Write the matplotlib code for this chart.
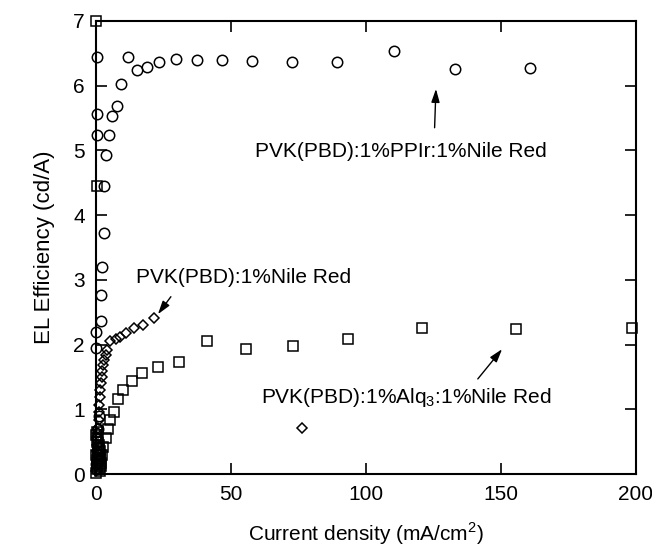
#!/usr/bin/env python3
# -*- coding: utf-8 -*-

import numpy as np
import matplotlib
matplotlib.use('Agg')
import matplotlib.pyplot as plt

plt.rcParams['font.family'] = ['Liberation Sans', 'DejaVu Sans']
plt.rcParams['mathtext.fontset'] = 'custom'
plt.rcParams['mathtext.rm'] = 'Liberation Sans'

# PVK(PBD):1%PPIr:1%Nile Red  (circles)
ppir_x = [0.1, 0.1, 0.3, 0.3, 0.3, 1.9, 1.9, 2.2, 3.0, 3.0, 3.7, 4.8, 5.9, 7.7, 9.3,
          11.9, 15.2, 18.9, 23.3, 29.6, 37.4, 46.7, 58.0, 72.6, 89.3, 110.4, 133.0, 160.7,
          0.2, 0.4, 0.6, 0.8, 1.0]
ppir_y = [1.95, 2.19, 5.24, 5.56, 6.44, 2.36, 2.77, 3.20, 3.72, 4.45, 4.93, 5.24, 5.53, 5.69, 6.03,
          6.44, 6.24, 6.29, 6.37, 6.41, 6.40, 6.40, 6.38, 6.37, 6.37, 6.54, 6.26, 6.27,
          0.15, 0.35, 0.55, 0.70, 0.90]

# PVK(PBD):1%Nile Red  (diamonds)
nile_x = [0.2, 0.3, 0.4, 0.5, 0.6, 0.7, 0.8, 0.9, 1.0, 1.1, 1.3, 1.5, 1.7, 1.9, 2.1, 2.3,
          2.7, 3.0, 3.6, 4.1, 5.2, 7.4, 8.9, 11.2, 14.0, 17.4, 21.5, 76.3]
nile_y = [0.05, 0.15, 0.25, 0.35, 0.45, 0.55, 0.63, 0.71, 0.83, 0.96, 1.07, 1.19, 1.30, 1.40, 1.50, 1.60,
          1.68, 1.76, 1.84, 1.92, 2.06, 2.09, 2.12, 2.18, 2.25, 2.30, 2.41, 0.71]

# PVK(PBD):1%Alq3:1%Nile Red  (squares)
alq_x = [0.2, 0.3, 0.2, 0.4, 0.6, 0.8, 1.0, 1.3, 1.5, 1.8, 0.1, 0.3, 0.5, 0.7, 0.9, 1.2, 1.4, 1.6,
         0.2, 0.5, 0.8, 1.1, 1.4, 1.7, 2.0,
         2.2, 2.7, 3.7, 4.5, 5.2, 6.7, 8.1, 10.0, 13.3, 17.0, 22.9, 30.7, 41.0, 55.6, 73.0, 93.3,
         120.7, 155.6, 198.5]
alq_y = [7.00, 4.45, 0.02, 0.08, 0.12, 0.20, 0.25, 0.10, 0.05, 0.17, 0.60, 0.50, 0.65, 0.40, 0.55, 0.45, 0.35, 0.30,
         0.30, 0.22, 0.33, 0.38, 0.15, 0.24, 0.12,
         0.29, 0.42, 0.56, 0.70, 0.83, 0.96, 1.16, 1.30, 1.44, 1.56, 1.65, 1.73, 2.06, 1.93, 1.98, 2.09,
         2.25, 2.24, 2.25]

x_ticks = [0, 50, 100, 150, 200]
y_ticks = [0, 1, 2, 3, 4, 5, 6, 7]

fs = 15

fig = plt.figure(figsize=(6.52, 5.5), dpi=100)
ax = fig.add_axes([0.147, 0.138, 0.828, 0.824])

mk = dict(linestyle='none', markerfacecolor='none', markeredgecolor='black',
          markeredgewidth=1.1, clip_on=False)
ax.plot(ppir_x, ppir_y, marker='o', markersize=7.5, **mk)
ax.plot(alq_x, alq_y, marker='s', markersize=7.5, **mk)
ax.plot(nile_x, nile_y, marker='D', markersize=5, **mk)

ax.set_xlim(0, 200)
ax.set_ylim(0, 7)
ax.set_xticks(x_ticks)
ax.set_yticks(y_ticks)
ax.tick_params(direction='in', top=True, right=True, length=8, width=1.2,
               labelsize=15, pad=8)
for s in ax.spines.values():
    s.set_linewidth(1.5)

ax.set_xlabel('Current density (mA/cm$^2$)', fontsize=fs, labelpad=12)
ax.set_ylabel('EL Efficiency (cd/A)', fontsize=16, labelpad=13)

arrow = dict(arrowstyle='-|>,head_length=0.8,head_width=0.25', color='black', lw=1.0,
             shrinkA=0, shrinkB=0)
ax.text(59, 4.98, 'PVK(PBD):1%PPIr:1%Nile Red', fontsize=fs, va='center', ha='left')
ax.annotate('', xy=(126, 5.95), xytext=(125.5, 5.35), arrowprops=arrow)

ax.text(15, 3.03, 'PVK(PBD):1%Nile Red', fontsize=fs, va='center', ha='left')
ax.annotate('', xy=(23, 2.47), xytext=(27.8, 2.74), arrowprops=arrow)

ax.text(61, 1.18, 'PVK(PBD):1%Alq$_3$:1%Nile Red', fontsize=fs, va='center', ha='left')
ax.annotate('', xy=(150.5, 1.93), xytext=(141.5, 1.47), arrowprops=arrow)

fig.savefig('out.png', dpi=100)
